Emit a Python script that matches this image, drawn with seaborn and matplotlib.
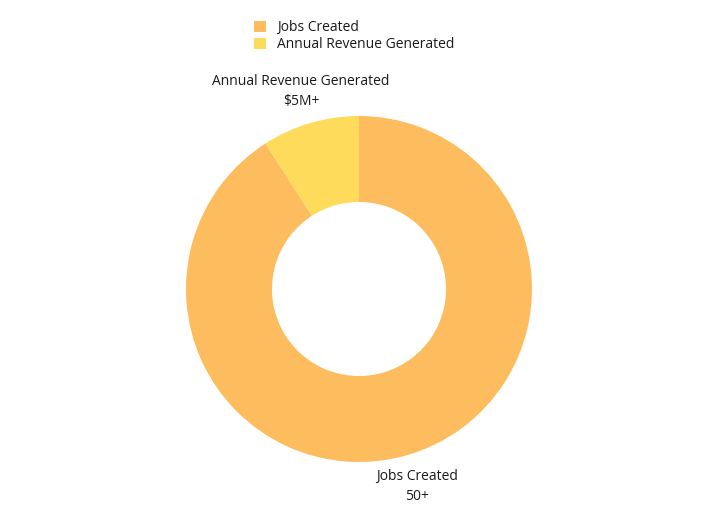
import matplotlib
matplotlib.use("Agg")
import matplotlib.pyplot as plt
import seaborn as sns
from matplotlib.patches import Patch

categories = ["Jobs Created", "Annual Revenue Generated"]
values = [50, 5]
value_labels = ["50+", "$5M+"]
colors = ["#FDBC5D", "#FEDB5B"]

sns.set_theme(style="white")
plt.rcParams['font.family'] = ['Open Sans', 'DejaVu Sans']

fig = plt.figure(figsize=(7.05, 5.08), dpi=100)
W, H = 705, 508
cx, cy, r = 359, 289, 173
ax = fig.add_axes([(cx - r) / W, (H - cy - r) / H, 2 * r / W, 2 * r / H])

labels = [f"{c}\n{v}" for c, v in zip(categories, value_labels)]
wedges, texts = ax.pie(values, labels=labels, colors=colors, startangle=90,
                       counterclock=False, labeldistance=1.19,
                       wedgeprops=dict(width=0.497, edgecolor="none"),
                       textprops=dict(fontsize=10, color="#1a1a1a"))
for t in texts:
    t.set_horizontalalignment("center")
    t.set_verticalalignment("center")
    t.set_linespacing(1.45)
ax.set_xlim(-1, 1)
ax.set_ylim(-1, 1)
ax.set_aspect("equal")
ax.axis("off")

handles = [Patch(facecolor=c, edgecolor="none", label=l) for c, l in zip(colors, categories)]
fig.legend(handles=handles, loc="upper center", bbox_to_anchor=(354 / W, 1 - 13 / H),
           frameon=False, fontsize=10, handlelength=0.85, handleheight=0.85,
           handletextpad=0.8, labelspacing=0.15, borderpad=0, labelcolor="#1a1a1a")

fig.savefig("out.png", dpi=100, facecolor="white")
